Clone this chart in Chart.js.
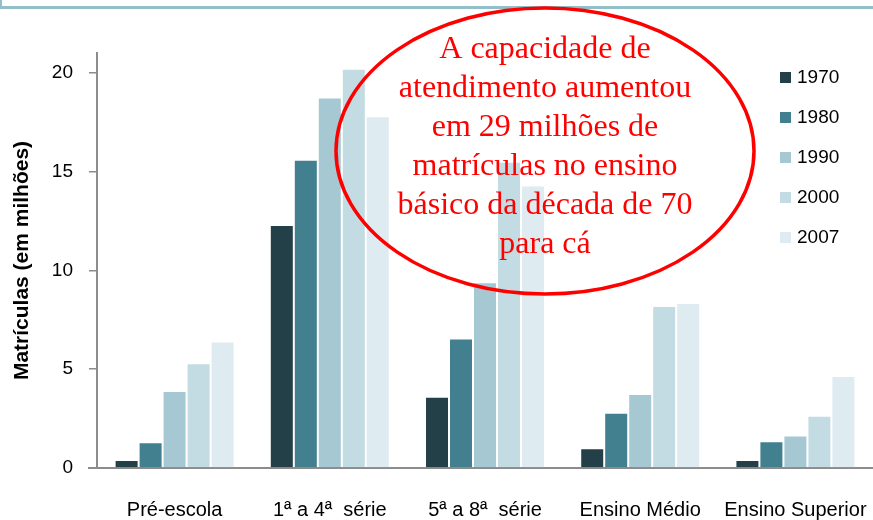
<!DOCTYPE html>
<html>
<head>
<meta charset="utf-8">
<script src="https://cdn.jsdelivr.net/npm/chart.js@4"></script>
<style>
  html, body { margin: 0; padding: 0; background: #fff; }
  canvas { display: block; }
</style>
</head>
<body>
<canvas id="chart" width="873" height="520"></canvas>
<script>
const categories = ["Pré-escola", "1ª a 4ª  série", "5ª a 8ª  série", "Ensino Médio", "Ensino Superior"];
const years = ["1970", "1980", "1990", "2000", "2007"];
const values1970 = [0.4, 12.3, 3.6, 1.0, 0.4];
const values1980 = [1.3, 15.6, 6.55, 2.8, 1.35];
const values1990 = [3.9, 18.75, 9.4, 3.75, 1.65];
const values2000 = [5.3, 20.2, 15.5, 8.2, 2.65];
const values2007 = [6.4, 17.8, 14.3, 8.35, 4.65];
const yTicks = [0, 5, 10, 15, 20];
const colors = ["#233f48", "#427f8f", "#a5c8d3", "#c3dce3", "#deebf0"];
const noteLines = ["A capacidade de", "atendimento aumentou", "em 29 milhões de", "matrículas no ensino", "básico da década de 70", "para cá"];

const series = [values1970, values1980, values1990, values2000, values2007];

// frame line, red ellipse with note, and the legend drawn over the plot
const overlay = {
  id: "overlay",
  beforeDraw(chart) {
    const ctx = chart.ctx;
    ctx.save();
    ctx.fillStyle = "#93bfc9";
    ctx.fillRect(0, 6, chart.width, 3);
    ctx.fillRect(0, 0, 2, 9);
    // x axis line runs a little left of the y axis
    ctx.fillStyle = "#8c8c8c";
    ctx.fillRect(88, chart.chartArea.bottom - 1, 10, 2);
    ctx.restore();
  },
  afterDraw(chart) {
    const ctx = chart.ctx;
    ctx.save();
    ctx.strokeStyle = "#ff0000";
    ctx.lineWidth = 3.5;
    ctx.beginPath();
    ctx.ellipse(545, 151, 209, 143, 0, 0, Math.PI * 2);
    ctx.stroke();

    ctx.fillStyle = "#ff0000";
    ctx.font = "32px 'Liberation Serif'";
    ctx.textAlign = "center";
    ctx.textBaseline = "alphabetic";
    noteLines.forEach((line, i) => ctx.fillText(line, 545, 58 + i * 39));

    ctx.font = "19px 'Liberation Sans'";
    ctx.textAlign = "left";
    ctx.textBaseline = "middle";
    chart.data.datasets.forEach((ds, i) => {
      ctx.fillStyle = ds.backgroundColor;
      ctx.fillRect(780, 72 + i * 40, 11, 11);
      ctx.fillStyle = "#000";
      ctx.fillText(ds.label, 797, 78 + i * 40);
    });
    ctx.restore();
  }
};

new Chart(document.getElementById("chart"), {
  type: "bar",
  data: {
    labels: categories,
    datasets: years.map((y, i) => ({
      label: y,
      data: series[i],
      backgroundColor: colors[i],
      borderColor: "rgba(255,255,255,0.5)",
      borderWidth: 1,
      categoryPercentage: 0.773,
      barPercentage: 1.0
    }))
  },
  options: {
    responsive: false,
    animation: false,
    devicePixelRatio: 1,
    layout: { padding: { top: 53, right: 0, left: 0, bottom: 0 } },
    plugins: {
      legend: { display: false },
      tooltip: { enabled: false }
    },
    scales: {
      x: {
        grid: { display: false },
        border: { color: "#8c8c8c", width: 2 },
        ticks: {
          color: "#000",
          font: { family: "'Liberation Sans'", size: 20 },
          padding: 22,
          maxRotation: 0,
          autoSkip: false
        },
        afterFit(scale) {
          scale.height = 52;
          scale.paddingLeft = 0;
          scale.paddingRight = 0;
        }
      },
      y: {
        min: 0,
        max: 21,
        grid: { drawOnChartArea: false, color: "#8c8c8c", lineWidth: 1.5, tickLength: 8 },
        border: { color: "#8c8c8c", width: 2 },
        ticks: {
          color: "#000",
          font: { family: "'Liberation Sans'", size: 19 },
          padding: 16
        },
        afterBuildTicks(scale) {
          scale.ticks = yTicks.map(v => ({ value: v }));
        },
        title: {
          display: true,
          text: "Matrículas (em milhões)",
          color: "#000",
          font: { family: "'Liberation Sans'", size: 21, weight: "bold" },
          padding: { top: 10, bottom: 0 }
        },
        afterFit(scale) {
          scale.width = 97;
          scale.paddingTop = 0;
          scale.paddingBottom = 0;
        }
      }
    }
  },
  plugins: [overlay]
});
</script>
</body>
</html>
